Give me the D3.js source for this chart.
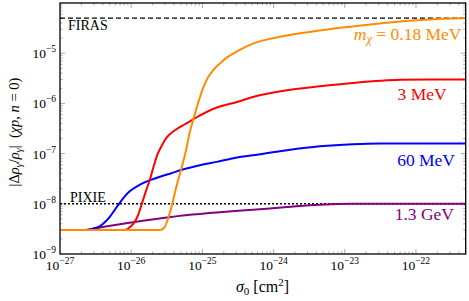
<!DOCTYPE html>
<html>
<head>
<meta charset="utf-8">
<script src="https://cdn.jsdelivr.net/npm/d3@7/dist/d3.min.js"></script>
<style>
  html, body { margin: 0; padding: 0; background: #fff; }
</style>
</head>
<body>
<svg id="chart" width="469" height="301"></svg>
<script>
// ---- data (sigma_0 [cm^2], |Δρ/ρ|) ----
const xTickExps = [-27, -26, -25, -24, -23, -22];
const yTickExps = [-9, -8, -7, -6, -5];
const FIRAS = 5e-5;
const PIXIE = 1e-8;

const curve018MeV = [
  [1e-27, 3e-9], [2.54e-26, 3e-9], [2.89e-26, 3.29e-9], [3.29e-26, 4.97e-9],
  [3.74e-26, 9.42e-9], [4.26e-26, 2.05e-8], [5.0e-26, 4.68e-8], [5.89e-26, 1.17e-7],
  [6.7e-26, 2.79e-7], [7.62e-26, 5.29e-7], [8.67e-26, 1.0e-6], [1.02e-25, 2.0e-6],
  [1.2e-25, 3.3e-6], [1.41e-25, 4.55e-6], [1.77e-25, 6.27e-6], [2.22e-25, 8.24e-6],
  [3.06e-25, 1.09e-5], [5.14e-25, 1.55e-5], [1.54e-24, 2.26e-5], [4.48e-24, 2.84e-5],
  [1.3e-23, 3.41e-5], [5.96e-23, 4.29e-5], [1.57e-22, 4.68e-5], [5e-22, 5e-5]
];
const curve3MeV = [
  [1e-27, 3e-9], [8.18e-27, 3e-9], [9.62e-27, 3.44e-9], [1.09e-26, 4.13e-9],
  [1.25e-26, 5.96e-9], [1.42e-26, 1.03e-8], [1.61e-26, 1.79e-8], [1.84e-26, 3.1e-8],
  [2.09e-26, 5.88e-8], [2.38e-26, 1.02e-7], [2.71e-26, 1.47e-7], [3.18e-26, 2.12e-7],
  [4.12e-26, 2.92e-7], [5.7e-26, 3.84e-7], [7.87e-26, 5.06e-7], [1.5e-25, 8e-7],
  [3.06e-25, 1.07e-6], [5.14e-25, 1.34e-6], [1.54e-24, 1.82e-6], [4.48e-24, 2.19e-6],
  [1.3e-23, 2.55e-6], [5.96e-23, 2.95e-6], [1.57e-22, 3.0e-6], [5e-22, 3.0e-6]
];
const curve60MeV = [
  [1e-27, 3e-9], [2.24e-27, 3e-9], [2.64e-27, 3.07e-9], [3.1e-27, 3.29e-9],
  [3.65e-27, 3.6e-9], [4.29e-27, 4.33e-9], [5.04e-27, 5.57e-9], [5.92e-27, 7.68e-9],
  [6.96e-27, 1.06e-8], [8.18e-27, 1.42e-8], [9.62e-27, 1.79e-8], [1.13e-26, 2.1e-8],
  [1.33e-26, 2.41e-8], [1.84e-26, 2.96e-8], [2.54e-26, 3.47e-8], [3.51e-26, 3.98e-8],
  [5.16e-26, 4.78e-8], [9.24e-26, 5.88e-8], [1.6e-25, 6.84e-8], [3.06e-25, 8.36e-8],
  [5.14e-25, 9.29e-8], [1.54e-24, 1.17e-7], [4.48e-24, 1.4e-7], [1.3e-23, 1.54e-7],
  [3.12e-23, 1.59e-7], [5e-22, 1.59e-7]
];
const curve13GeV = [
  [1e-27, 3e-9], [2.24e-27, 3e-9], [3.65e-27, 3.37e-9], [8.5e-27, 4.1e-9],
  [2.5e-26, 5.1e-9], [7.2e-26, 6.1e-9], [1.75e-25, 6.8e-9], [5.14e-25, 7.6e-9],
  [1.54e-24, 8.6e-9], [4.48e-24, 9.6e-9], [1.3e-23, 1e-8], [5e-22, 1e-8]
];

const seriesNames = ["0.18 MeV", "3 MeV", "60 MeV", "1.3 GeV"];
const seriesData = [curve018MeV, curve3MeV, curve60MeV, curve13GeV];
const seriesColors = ["#ff8c00", "#ff0000", "#0000ff", "#800080"];

// ---- layout ----
const FONT = '"Liberation Serif", "Times New Roman", serif';
const svg = d3.select("#chart");
const L = 60, T = 3, R = 465.7, B = 254;

function txt(sel) { return sel.append("text").style("font-family", FONT); }

const x = d3.scaleLog().domain([1e-27, 5e-22]).range([L, R]);
const y = d3.scaleLog().domain([1e-9, 1e-4]).range([B, T]);

svg.append("defs").append("clipPath").attr("id", "clip")
  .append("rect").attr("x", L).attr("y", T).attr("width", R - L).attr("height", B - T);

// ---- ticks (inward, all four sides) ----
const tickCol = "#999";
const xMinor = [], yMinor = [];
for (let e = -27; e <= -22; e++) for (let m = 2; m <= 9; m++) { const v = m * Math.pow(10, e); if (v <= 5e-22) xMinor.push(v); }
for (let e = -9; e <= -5; e++) for (let m = 2; m <= 9; m++) yMinor.push(m * Math.pow(10, e));
const xMajor = xTickExps.map(e => Math.pow(10, e));
const yMajor = yTickExps.map(e => Math.pow(10, e));

const gt = svg.append("g").attr("stroke", tickCol).attr("stroke-width", 0.8);
function vt(vals, len) {
  vals.forEach(v => {
    gt.append("line").attr("x1", x(v)).attr("x2", x(v)).attr("y1", B).attr("y2", B - len);
    gt.append("line").attr("x1", x(v)).attr("x2", x(v)).attr("y1", T).attr("y2", T + len);
  });
}
function ht(vals, len) {
  vals.forEach(v => {
    gt.append("line").attr("y1", y(v)).attr("y2", y(v)).attr("x1", L).attr("x2", L + len);
    gt.append("line").attr("y1", y(v)).attr("y2", y(v)).attr("x1", R).attr("x2", R - len);
  });
}
vt(xMajor.slice(1), 5); vt(xMinor, 2.5);
ht(yMajor.slice(1), 5); ht(yMinor, 2.5);

// ---- reference lines ----
svg.append("line").attr("x1", L).attr("x2", R).attr("y1", y(FIRAS)).attr("y2", y(FIRAS))
  .attr("stroke", "#000").attr("stroke-width", 1.3).attr("stroke-dasharray", "5,3");
svg.append("line").attr("x1", L).attr("x2", R).attr("y1", y(PIXIE)).attr("y2", y(PIXIE))
  .attr("stroke", "#000").attr("stroke-width", 1.5).attr("stroke-dasharray", "2,2");

txt(svg).attr("x", 68).attr("y", 29.5).style("font-size", "14px").text("FIRAS");
txt(svg).attr("x", 70).attr("y", 201.5).style("font-size", "14px").text("PIXIE");

// ---- curves ----
const line = d3.line().x(d => x(d[0])).y(d => y(d[1])).curve(d3.curveMonotoneX);
const gc = svg.append("g").attr("clip-path", "url(#clip)");
[3, 2, 1, 0].forEach(i => {
  gc.append("path").datum(seriesData[i]).attr("d", line)
    .attr("fill", "none").attr("stroke", seriesColors[i]).attr("stroke-width", 2);
});

// ---- frame ----
svg.append("rect").attr("x", L).attr("y", T).attr("width", R - L).attr("height", B - T)
  .attr("fill", "none").attr("stroke", "#000").attr("stroke-width", 1.3);

// ---- tick labels ----
const fsT = "13.5px", fsS = "9.5px";
xTickExps.forEach(e => {
  const t = txt(svg).attr("x", x(Math.pow(10, e))).attr("y", 270)
    .attr("text-anchor", "middle").style("font-size", fsT);
  t.append("tspan").text("10");
  t.append("tspan").attr("dy", -6).style("font-size", fsS).text("\u2212" + (-e));
});
yTickExps.forEach(e => {
  const t = txt(svg).attr("x", 56).attr("y", y(Math.pow(10, e)) + 5)
    .attr("text-anchor", "end").style("font-size", fsT);
  t.append("tspan").text("10");
  t.append("tspan").attr("dy", -6).style("font-size", fsS).text("\u2212" + (-e));
});

// ---- axis labels ----
const xl = txt(svg).attr("x", 262.5).attr("y", 292).attr("text-anchor", "middle").style("font-size", "16px");
xl.append("tspan").style("font-style", "italic").text("\u03c3");
xl.append("tspan").attr("dy", 3).style("font-size", "11px").text("0");
xl.append("tspan").attr("dy", -3).text(" [cm");
xl.append("tspan").attr("dy", -6).style("font-size", "11px").text("2");
xl.append("tspan").attr("dy", 6).text("]");

const yl = txt(svg).attr("transform", "translate(19,132) rotate(-90)")
  .attr("text-anchor", "middle").style("font-size", "14.5px");
yl.append("tspan").text("|\u0394");
yl.append("tspan").style("font-style", "italic").text("\u03c1");
yl.append("tspan").attr("dy", 3).style("font-size", "10px").style("font-style", "italic").text("\u03b3");
yl.append("tspan").attr("dy", -3).text("/");
yl.append("tspan").style("font-style", "italic").text("\u03c1");
yl.append("tspan").attr("dy", 3).style("font-size", "10px").style("font-style", "italic").text("\u03b3");
yl.append("tspan").attr("dy", -3).text("|\u2002(");
yl.append("tspan").style("font-style", "italic").text("\u03c7p");
yl.append("tspan").text(", ");
yl.append("tspan").style("font-style", "italic").text("n");
yl.append("tspan").text(" = 0)");

// ---- series labels ----
const fsL = "17.5px";
const l0 = txt(svg).attr("x", 461.5).attr("y", 40).attr("text-anchor", "end")
  .style("font-size", fsL).attr("fill", seriesColors[0]);
l0.append("tspan").style("font-style", "italic").text("m");
l0.append("tspan").attr("dy", 3).style("font-size", "12.5px").style("font-style", "italic").text("\u03c7");
l0.append("tspan").attr("dy", -3).text(" = " + seriesNames[0]);

const labelPos = [null, [446.7, 100], [455, 165.5], [454, 220]];
[1, 2, 3].forEach(i => {
  txt(svg).attr("x", labelPos[i][0]).attr("y", labelPos[i][1])
    .attr("text-anchor", "end").style("font-size", fsL).attr("fill", seriesColors[i])
    .text(seriesNames[i]);
});
</script>
</body>
</html>
